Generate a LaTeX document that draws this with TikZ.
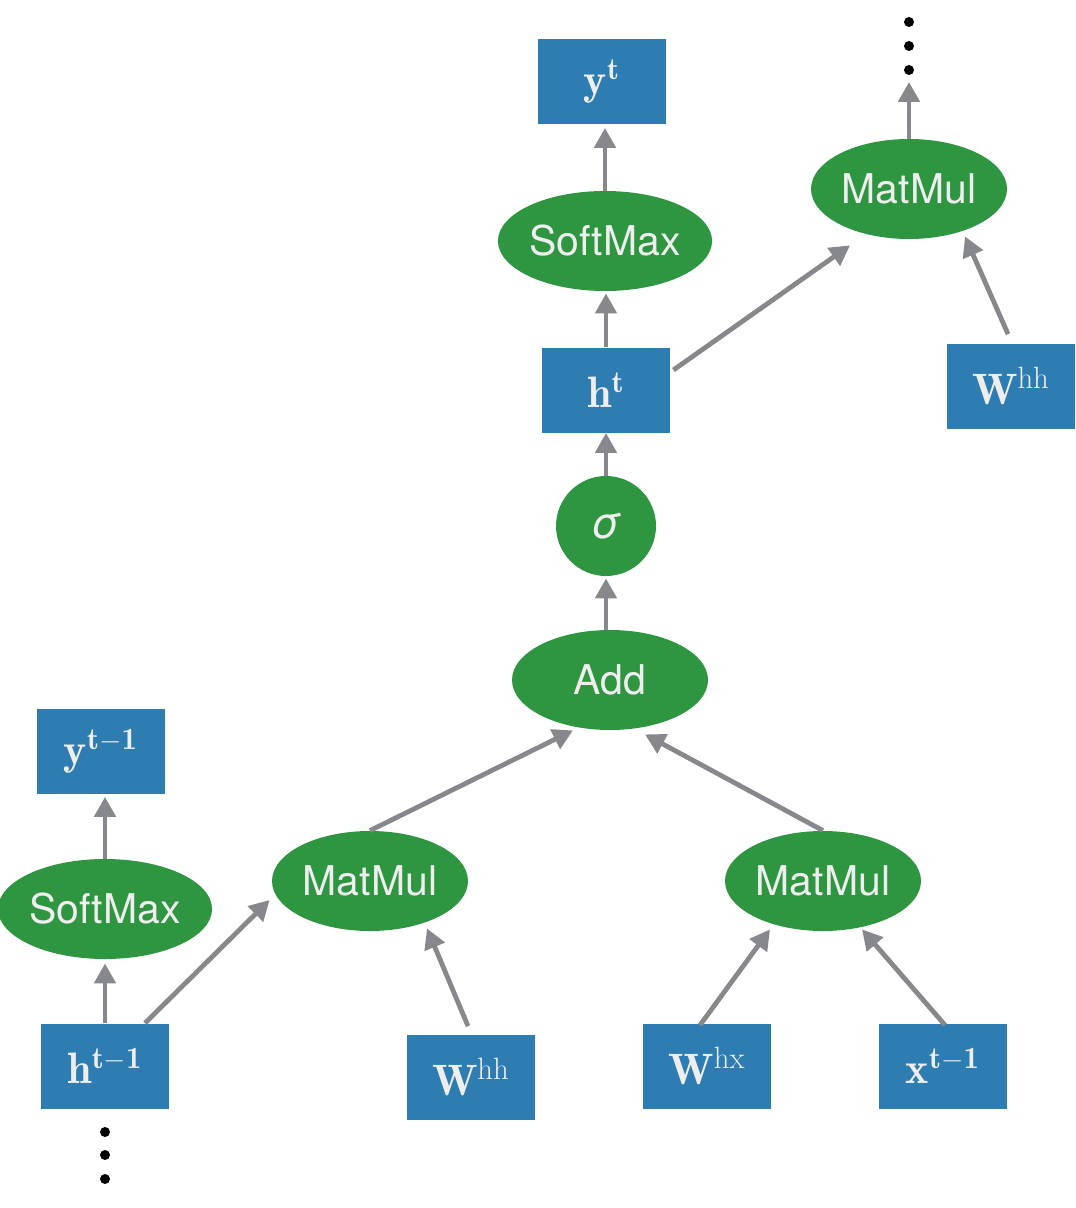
\documentclass[tikz,border=0pt]{standalone}
\usepackage{fontspec}
\newfontfamily\heros{TeX Gyre Heros}
\usetikzlibrary{shapes.geometric,arrows.meta,calc}
\definecolor{boxblue}{RGB}{46,125,178}
\definecolor{opgreen}{RGB}{46,150,64}
\definecolor{arrgray}{RGB}{135,136,141}
\definecolor{txt}{RGB}{238,238,238}
\begin{document}
\begin{tikzpicture}[x=0.5pt,y=-0.5pt,
  var/.style={rectangle,fill=boxblue,text=txt,minimum width=64pt,minimum height=42.5pt,inner sep=0pt,font=\fontsize{22}{24}\selectfont},
  op/.style={ellipse,fill=opgreen,text=txt,minimum width=98pt,minimum height=50pt,inner sep=0pt,font=\heros\fontsize{20.5}{24}\selectfont},
  conn/.style={draw=arrgray,line width=2.4pt,-{Triangle[width=10.5pt,length=10pt]}},
  dot/.style={circle,fill=black,minimum size=5pt,inner sep=0pt}]
\useasboundingbox (0,0) rectangle (1075,1208);
% nodes
\node[var] (yt) at (602,82) {$\mathbf{y}^{\mathbf{t}}$};
\node[op,minimum width=105.5pt] (smT) at (605,241) {SoftMax};
\node[var] (ht) at (606,390) {$\mathbf{h}^{\mathbf{t}}$};
\node[circle,fill=opgreen,text=txt,minimum size=50pt,inner sep=0pt,font=\heros\itshape\fontsize{22}{24}\selectfont] (sig) at (606,526) {σ};
\node[op] (add) at (610,680) {Add};
\node[op] (matT) at (909,189) {MatMul};
\node[var] (whhT) at (1011,386) {$\mathbf{W}^{\mathrm{hh}}$};
\node[dot] (d1) at (909,22) {};
\node[dot] (d2) at (909,46) {};
\node[dot] (d3) at (909,70) {};
\node[var] (y1) at (101,751) {$\mathbf{y}^{\mathbf{t-1}}$};
\node[op,minimum width=105.5pt] (smL) at (105,909) {SoftMax};
\node[op] (matL) at (370,881) {MatMul};
\node[op] (matR) at (823,881) {MatMul};
\node[var] (h1) at (105,1066) {$\mathbf{h}^{\mathbf{t-1}}$};
\node[var] (whhB) at (471,1077) {$\mathbf{W}^{\mathrm{hh}}$};
\node[var] (whx) at (707,1066) {$\mathbf{W}^{\mathrm{hx}}$};
\node[var] (x1) at (943,1066) {$\mathbf{x}^{\mathbf{t-1}}$};
\node[dot] (e1) at (105,1132) {};
\node[dot] (e2) at (105,1155) {};
\node[dot] (e3) at (105,1179) {};
% connectors
\draw[conn,shorten >=2pt] (h1.north) -- (smL.south);
\draw[conn,shorten >=1.5pt] (smL.north) -- (smL.north |- y1.south);
\draw[conn] ($(h1.north)+(40,0)$) -- ($(matL.west)+(-2,19)$);
\draw[conn] ($(whhB.north)+(-3,-8)$) -- ($(matL.south)+(57,-3)$);
\draw[conn] ($(whx.north)+(-7,2)$) -- ($(matR.south)+(-53,-2)$);
\draw[conn] ($(x1.north)+(2,2)$) -- ($(matR.south)+(39,-2)$);
\draw[conn] (matL.north) -- ($(add.south)+(-37,0)$);
\draw[conn] (matR.north) -- ($(add.south)+(35,4)$);
\draw[conn,shorten >=1pt] (sig.south |- add.north) -- (sig.south);
\draw[conn] (sig.north) -- (ht.south);
\draw[conn,shorten >=1pt] (ht.north) -- (ht.north |- smT.south);
\draw[conn,shorten >=1.5pt] (smT.north) -- (smT.north |- yt.south);
\draw[conn] ($(ht.east)+(3,-20)$) -- ($(matT.south)+(-59,6)$);
\draw[conn] ($(whhT.north)+(-3,-9)$) -- ($(matT.south)+(56,-3)$);
\draw[conn] (matT.north) -- ($(d3)+(0,12)$);
\end{tikzpicture}
\end{document}
